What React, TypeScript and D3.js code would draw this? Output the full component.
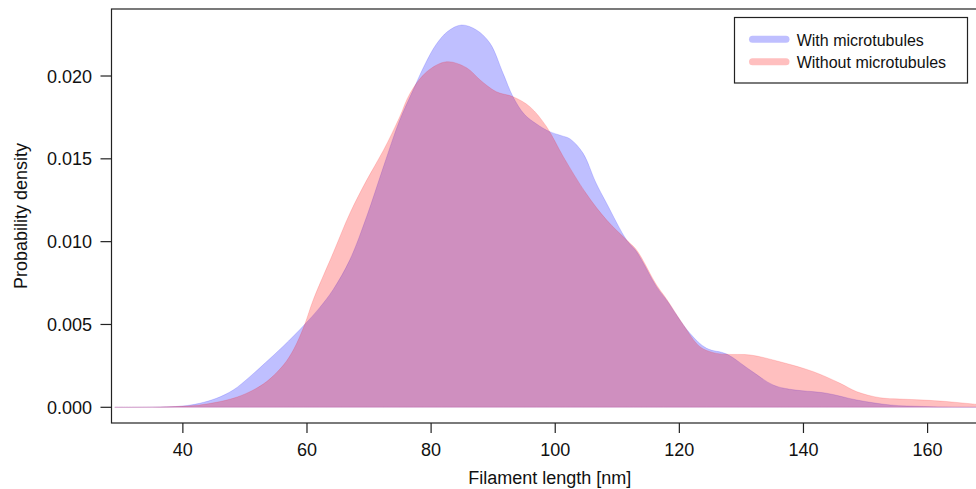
import React from "react";
import * as d3 from "d3";

// Filament length [nm] grid and densities
const withLengths = [29, 35, 40, 42.7, 45.4, 48.1, 50.8, 53.5, 56.2, 59.5, 62, 64.2, 66.9, 69.6, 72.3, 74.9, 77.1, 79, 80.8, 82.7, 84.9, 87.3, 89.5, 91.6, 93.2, 95, 97, 99.1, 101, 102.4, 104.5, 106.5, 108.3, 111.5, 113.1, 116.3, 117.9, 121.7, 124.4, 127.6, 131.4, 135.1, 137.8, 143.7, 148.6, 154, 159.3, 164, 168];
const withDensity = [0, 0.00001, 0.00008, 0.00024, 0.00054, 0.00104, 0.00185, 0.00276, 0.0037, 0.00495, 0.006, 0.0071, 0.0089, 0.0115, 0.0145, 0.0173, 0.01915, 0.0207, 0.0219, 0.0227, 0.02308, 0.02278, 0.02197, 0.02016, 0.01875, 0.0177, 0.0171, 0.01664, 0.0164, 0.0162, 0.01533, 0.0136, 0.0123, 0.0101, 0.0094, 0.0073, 0.0065, 0.00447, 0.00356, 0.00322, 0.00225, 0.00135, 0.00109, 0.00085, 0.00044, 0.00014, 0.00005, 0.00001, 0];

const withoutLengths = [29, 35, 40, 42.7, 45.4, 48.1, 50.8, 53.5, 56.2, 57.8, 59.6, 61, 64.2, 66.9, 69.6, 72.3, 74.9, 76.6, 79.3, 82.5, 85.7, 87.9, 90.5, 93.2, 95.9, 98.6, 101.3, 105, 108.3, 111.5, 113.1, 116.3, 118, 120.6, 123.3, 125.5, 127.6, 131.4, 136.2, 141.6, 145.9, 148.6, 152.3, 155.5, 159.3, 163, 167.3, 172];
const withoutDensity = [0, 0.00001, 0.00006, 0.00014, 0.0003, 0.00054, 0.00094, 0.00155, 0.00255, 0.00346, 0.00497, 0.00648, 0.0093, 0.0117, 0.0137, 0.0155, 0.0175, 0.01895, 0.02026, 0.02086, 0.0205, 0.01976, 0.01905, 0.01875, 0.01815, 0.01694, 0.01513, 0.0129, 0.0113, 0.0101, 0.0095, 0.0074, 0.0065, 0.005, 0.00366, 0.0033, 0.0032, 0.00316, 0.00275, 0.00215, 0.00145, 0.00094, 0.00058, 0.0005, 0.00044, 0.00035, 0.0002, 0.00005];

const xTicks = [40, 60, 80, 100, 120, 140, 160];
const yTicks = [0, 0.005, 0.01, 0.015, 0.02];
const seriesLabels = ["With microtubules", "Without microtubules"];
const seriesColors = ["rgba(0,0,255,0.25)", "rgba(255,0,0,0.25)"];

const W = 976;
const H = 489;
const L = 111.5;
const T = 9;
const B = 423;
const R = 990;
const FONT = "'Liberation Sans', Arial, Helvetica, sans-serif";

export default function App() {
  const x = d3.scaleLinear().domain([28.5, 170]).range([L, L + 141.5 * 6.206]);
  const y = d3.scaleLinear().domain([-0.000948, 0.024045]).range([B, T]);
  const area = d3
    .area<[number, number]>()
    .x((d) => x(d[0]))
    .y0(y(0))
    .y1((d) => Math.min(y(0), y(d[1])))
    .curve(d3.curveCatmullRom.alpha(0.5));
  const withData = withLengths.map((v, i) => [v, withDensity[i]] as [number, number]);
  const withoutData = withoutLengths.map((v, i) => [v, withoutDensity[i]] as [number, number]);
  const fmt = d3.format(".3f");

  return (
    <svg
      width={W}
      height={H}
      style={{ position: "absolute", left: 0, top: 0, background: "#fff" }}
      fontFamily={FONT}
    >
      <defs>
        <clipPath id="plotclip">
          <rect x={L} y={T} width={R - L} height={y(0) - T + 0.5} />
        </clipPath>
      </defs>
      <g clipPath="url(#plotclip)">
        <path d={area(withData) || ""} fill={seriesColors[0]} stroke={seriesColors[0]} strokeWidth={0.6} />
        <path d={area(withoutData) || ""} fill={seriesColors[1]} stroke={seriesColors[1]} strokeWidth={0.6} />
      </g>
      <rect x={L} y={T} width={R - L} height={B - T} fill="none" stroke="#222" strokeWidth={1.2} />
      {yTicks.map((t) => (
        <g key={"y" + t}>
          <line x1={L - 11} x2={L} y1={y(t)} y2={y(t)} stroke="#222" strokeWidth={1.2} />
          <text x={92} y={y(t) + 6.5} textAnchor="end" fontSize={18} fill="#111">
            {fmt(t)}
          </text>
        </g>
      ))}
      {xTicks.map((t) => (
        <g key={"x" + t}>
          <line x1={x(t)} x2={x(t)} y1={B} y2={B + 10} stroke="#222" strokeWidth={1.2} />
          <text x={x(t)} y={455.5} textAnchor="middle" fontSize={18} fill="#111">
            {t}
          </text>
        </g>
      ))}
      <text x={(L + 988) / 2} y={484} textAnchor="middle" fontSize={18} fill="#111">
        Filament length [nm]
      </text>
      <text
        transform={`translate(27, ${(T + B) / 2}) rotate(-90)`}
        textAnchor="middle"
        fontSize={18}
        fill="#111"
      >
        Probability density
      </text>
      <g>
        <rect x={734.5} y={17.5} width={233} height={65.5} fill="#fff" stroke="#222" strokeWidth={1.2} />
        {seriesLabels.map((lab, i) => (
          <g key={lab}>
            <line
              x1={752.5}
              x2={786}
              y1={39.3 + i * 22.4}
              y2={39.3 + i * 22.4}
              stroke={seriesColors[i]}
              strokeWidth={7}
              strokeLinecap="round"
            />
            <text x={796.7} y={45.5 + i * 22.4} fontSize={16} fill="#111">
              {lab}
            </text>
          </g>
        ))}
      </g>
    </svg>
  );
}
